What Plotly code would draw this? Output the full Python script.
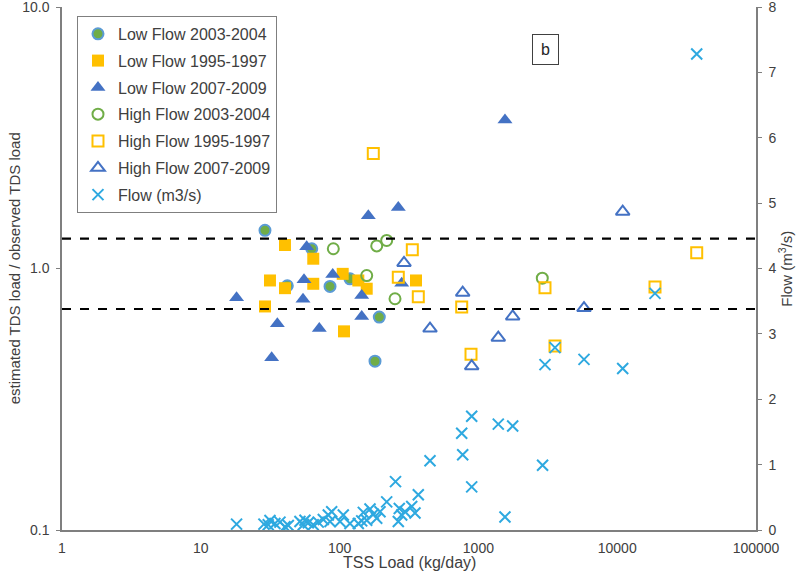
import plotly.graph_objects as go

# ---------------- data ----------------
# Low Flow 2003-2004
lf0304_tss = [29.0, 63.0, 42.0, 85.3, 118.8, 193.2, 179.9]
lf0304_ratio = [1.40, 1.19, 0.859, 0.854, 0.913, 0.652, 0.442]
# Low Flow 1995-1997
lf9597_tss = [40.4, 64.6, 31.5, 40.4, 64.6, 105.3, 136.4, 156.8, 355.1, 29.0, 107.6]
lf9597_ratio = [1.23, 1.09, 0.90, 0.841, 0.874, 0.954, 0.90, 0.837, 0.90, 0.716, 0.575]
# Low Flow 2007-2009
lf0709_tss = [1554, 161.0, 264.8, 57.9, 55.4, 89.2, 280.2, 144.3, 18.1, 54.5, 35.6, 71.4, 144.3, 32.4]
lf0709_ratio = [3.70, 1.59, 1.71, 1.21, 0.905, 0.949, 0.879, 0.789, 0.773, 0.762, 0.615, 0.589, 0.656, 0.456]
# High Flow 2003-2004
hf0304_tss = [90.1, 185.1, 218.4, 156.8, 250.7, 2886]
hf0304_ratio = [1.19, 1.22, 1.28, 0.94, 0.766, 0.918]
# High Flow 1995-1997
hf9597_tss = [174.9, 334.1, 264.8, 369.0, 758, 3018, 37400, 884.6, 3563, 18720]
hf9597_ratio = [2.75, 1.18, 0.926, 0.78, 0.712, 0.844, 1.15, 0.470, 0.505, 0.849]
# High Flow 2007-2009
hf0709_tss = [291.1, 448.1, 770.6, 5765, 1766, 1391, 894.8, 10955]
hf0709_ratio = [1.05, 0.589, 0.808, 0.706, 0.656, 0.544, 0.423, 1.65]
# Flow (m3/s)
flow_tss = [18.1, 28.5, 31.5, 34.2, 37.2, 40.4, 42.7, 30.6, 51.8, 56.3, 54.7, 59.5, 64.6,
            70.2, 76.3, 82.9, 87.7, 85.3, 106.3, 100.7, 118.8, 136.4, 148.2, 165.6, 174.9,
            195.5, 156.8, 185.1, 144.3, 218.4, 252.8, 369.0, 269.2, 296.0, 330.8, 349.3,
            280.2, 264.8, 448.1, 770.6, 758, 894.8, 894.8, 1391, 1766, 1554, 2900, 3018,
            3563, 5765, 10955, 18720, 37400]
flow_val = [0.09, 0.09, 0.145, 0.10, 0.12, 0.05, 0.07, 0.08, 0.13, 0.15, 0.08, 0.11, 0.08,
            0.12, 0.16, 0.23, 0.28, 0.13, 0.23, 0.13, 0.10, 0.10, 0.27, 0.32, 0.24,
            0.28, 0.15, 0.18, 0.14, 0.43, 0.74, 0.54, 0.33, 0.28, 0.36, 0.26,
            0.23, 0.13, 1.06, 1.15, 1.48, 1.74, 0.66, 1.62, 1.59, 0.20, 0.99, 2.53,
            2.79, 2.61, 2.47, 3.62, 7.28]

limit_lines = [1.3, 0.7]
x_ticks = [1, 10, 100, 1000, 10000, 100000]
x_tick_text = ["1", "10", "100", "1000", "10000", "100000"]
y_ticks = [0.1, 1, 10]
y_tick_text = ["0.1", "1.0", "10.0"]
y_all_ticks = [0.1, 0.2, 0.3, 0.4, 0.5, 0.6, 0.7, 0.8, 0.9,
               1, 2, 3, 4, 5, 6, 7, 8, 9, 10]
y2_ticks = [0, 1, 2, 3, 4, 5, 6, 7, 8]

BLUE = "#4472C4"
GOLD = "#FFC000"
GREEN = "#70AD47"
LBLUE = "#5B9BD5"
XCOL = "#2EA9E0"
TXT = "#404040"
AX = "#7F7F7F"
FONT = "Liberation Sans, Arial, sans-serif"

fig = go.Figure()

fig.add_trace(go.Scatter(x=lf0304_tss, y=lf0304_ratio, mode="markers", name="Low Flow 2003-2004",
                         legendgroup="a",
                         marker=dict(symbol="circle", size=11, color=GREEN,
                                     line=dict(color=LBLUE, width=2))))
fig.add_trace(go.Scatter(x=lf9597_tss, y=lf9597_ratio, mode="markers", name="Low Flow 1995-1997",
                         legendgroup="b",
                         marker=dict(symbol="square", size=12, color=GOLD,
                                     line=dict(color=GOLD, width=0))))
fig.add_trace(go.Scatter(x=lf0709_tss, y=lf0709_ratio, mode="markers", name="Low Flow 2007-2009",
                         legendgroup="c",
                         marker=dict(symbol="triangle-up", size=13, color=BLUE,
                                     line=dict(color=BLUE, width=0))))
fig.add_trace(go.Scatter(x=hf0304_tss, y=hf0304_ratio, mode="markers", name="High Flow 2003-2004",
                         legendgroup="d",
                         marker=dict(symbol="circle-open", size=11, color=GREEN,
                                     line=dict(color=GREEN, width=2))))
fig.add_trace(go.Scatter(x=hf9597_tss, y=hf9597_ratio, mode="markers", name="High Flow 1995-1997",
                         legendgroup="e",
                         marker=dict(symbol="square-open", size=11, color=GOLD,
                                     line=dict(color=GOLD, width=2))))
fig.add_trace(go.Scatter(x=hf0709_tss, y=hf0709_ratio, mode="markers", name="High Flow 2007-2009",
                         legendgroup="f",
                         marker=dict(symbol="triangle-up-open", size=12, color=BLUE,
                                     line=dict(color=BLUE, width=2))))
fig.add_trace(go.Scatter(x=flow_tss, y=flow_val, mode="markers", name="Flow (m3/s)",
                         legendgroup="g", yaxis="y2",
                         marker=dict(symbol="x-thin", size=11, color=XCOL,
                                     line=dict(color=XCOL, width=2))))

for v in limit_lines:
    fig.add_shape(type="line", xref="paper", yref="y", x0=0, x1=1, y0=v, y1=v,
                  line=dict(color="black", width=2.2, dash="dash"))

fig.add_annotation(xref="paper", yref="paper", x=0.697, y=0.918, xanchor="center",
                   yanchor="middle", text="b", showarrow=False, width=15, height=19,
                   font=dict(family=FONT, size=16, color="#262626"),
                   bordercolor="#404040", borderwidth=1, borderpad=5, bgcolor="white")

# axis titles as annotations (precise placement)
fig.add_annotation(xref="paper", yref="paper", x=0.501, xanchor="center", y=-0.062,
                   yanchor="middle", text="TSS Load (kg/day)", showarrow=False,
                   font=dict(family=FONT, size=16, color=TXT))
fig.add_annotation(xref="paper", yref="paper", x=-0.068, xanchor="center", y=0.5,
                   yanchor="middle", text="estimated TDS load / observed TDS load",
                   textangle=-90, showarrow=False,
                   font=dict(family=FONT, size=15, color=TXT))
fig.add_annotation(xref="paper", yref="paper", x=1.042, xanchor="center", y=0.5,
                   yanchor="middle", text="Flow (m<sup>3</sup>/s)", textangle=-90,
                   showarrow=False, font=dict(family=FONT, size=15, color=TXT))

tick_style = dict(ticklen=4, tickcolor=AX, tickwidth=1.3)

fig.update_layout(
    width=800, height=579,
    margin=dict(l=62, r=44, t=7, b=49),
    paper_bgcolor="white", plot_bgcolor="white",
    font=dict(family=FONT, color=TXT, size=14),
    showlegend=True,
    legend=dict(x=0.0216, y=0.983, xanchor="left", yanchor="top",
                bgcolor="white", bordercolor="#7F7F7F", borderwidth=1,
                font=dict(family=FONT, size=16, color=TXT),
                tracegroupgap=3, itemwidth=30),
    xaxis=dict(type="log", range=[0, 5], tickvals=x_ticks, ticktext=x_tick_text,
               showgrid=False, zeroline=False, showline=True, linecolor=AX, linewidth=1.5,
               ticks="", tickfont=dict(size=14, color=TXT), automargin=False,
               ticklabeloverflow="allow", ticklabelstandoff=4),
    yaxis=dict(type="log", range=[-1, 1], tickvals=y_ticks, ticktext=y_tick_text,
               showgrid=False, zeroline=False, showline=True, linecolor=AX, linewidth=1.5,
               ticks="outside", **tick_style,
               tickfont=dict(size=14, color=TXT), automargin=False,
               ticklabeloverflow="allow", ticklabelstandoff=4),
    yaxis2=dict(overlaying="y", side="right", range=[0, 8], tickvals=y2_ticks,
                showgrid=False, zeroline=False, showline=True, linecolor=AX, linewidth=1.5,
                ticks="outside", **tick_style,
                tickfont=dict(size=14, color=TXT), automargin=False,
                ticklabeloverflow="allow", ticklabelstandoff=4),
    # overlay axes only to draw the crossing major/minor tick marks
    yaxis3=dict(overlaying="y", side="left", anchor="x", type="log", range=[-1, 1],
                tickvals=y_all_ticks, showticklabels=False, showgrid=False, zeroline=False,
                showline=False, ticks="inside", **tick_style),
    yaxis5=dict(overlaying="y", side="left", anchor="x", type="log", range=[-1, 1],
                tickvals=y_all_ticks, showticklabels=False, showgrid=False, zeroline=False,
                showline=False, ticks="outside", **tick_style),
    yaxis4=dict(overlaying="y", side="right", anchor="x", range=[0, 8],
                tickvals=y2_ticks, showticklabels=False, showgrid=False, zeroline=False,
                showline=False, ticks="inside", **tick_style),
)

fig.write_html("out.html", config={"displayModeBar": False},
               post_script="document.body.style.margin='0';document.body.style.overflow='hidden';")
